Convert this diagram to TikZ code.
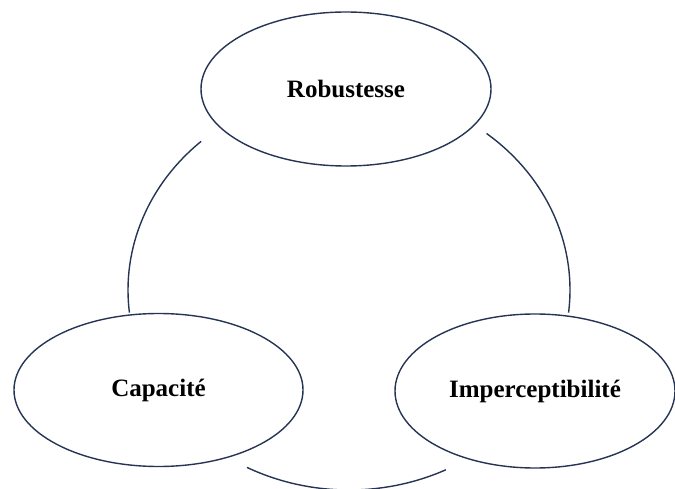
\documentclass[tikz,border=0pt]{standalone}
\usepackage{fontspec}
\setmainfont{Liberation Serif}
\usetikzlibrary{shapes.geometric,calc}
\definecolor{linec}{RGB}{38,52,84}
\begin{document}
\begin{tikzpicture}[x=1pt,y=1pt,
  oval/.style={ellipse,draw=linec,line width=1.4pt,fill=white,inner sep=0pt,
    font=\fontsize{25}{30}\selectfont\bfseries,text=black},
  link/.style={draw=linec,line width=1.4pt}]
\useasboundingbox (0,0) rectangle (675,488);
\coordinate (c) at (349,198);
\coordinate (l1) at ($(c)+(132:221 and 200)$);
\coordinate (r1) at ($(c)+(51.5:221 and 200)$);
\coordinate (b1) at ($(c)+(242.5:221 and 200)$);
\draw[link] (l1) arc[start angle=132,end angle=186.5,x radius=221,y radius=200];
\draw[link] (r1) arc[start angle=51.5,end angle=-6.5,x radius=221,y radius=200];
\draw[link] (b1) arc[start angle=242.5,end angle=296,x radius=221,y radius=200];
\node[oval,minimum width=290,minimum height=154] (rob) at (346,399) {Robustesse};
\node[oval,minimum width=289,minimum height=153] (cap) at (158.5,98) {Capacité};
\node[oval,minimum width=280,minimum height=154] (imp) at (535,97) {Imperceptibilité};
\end{tikzpicture}
\end{document}
